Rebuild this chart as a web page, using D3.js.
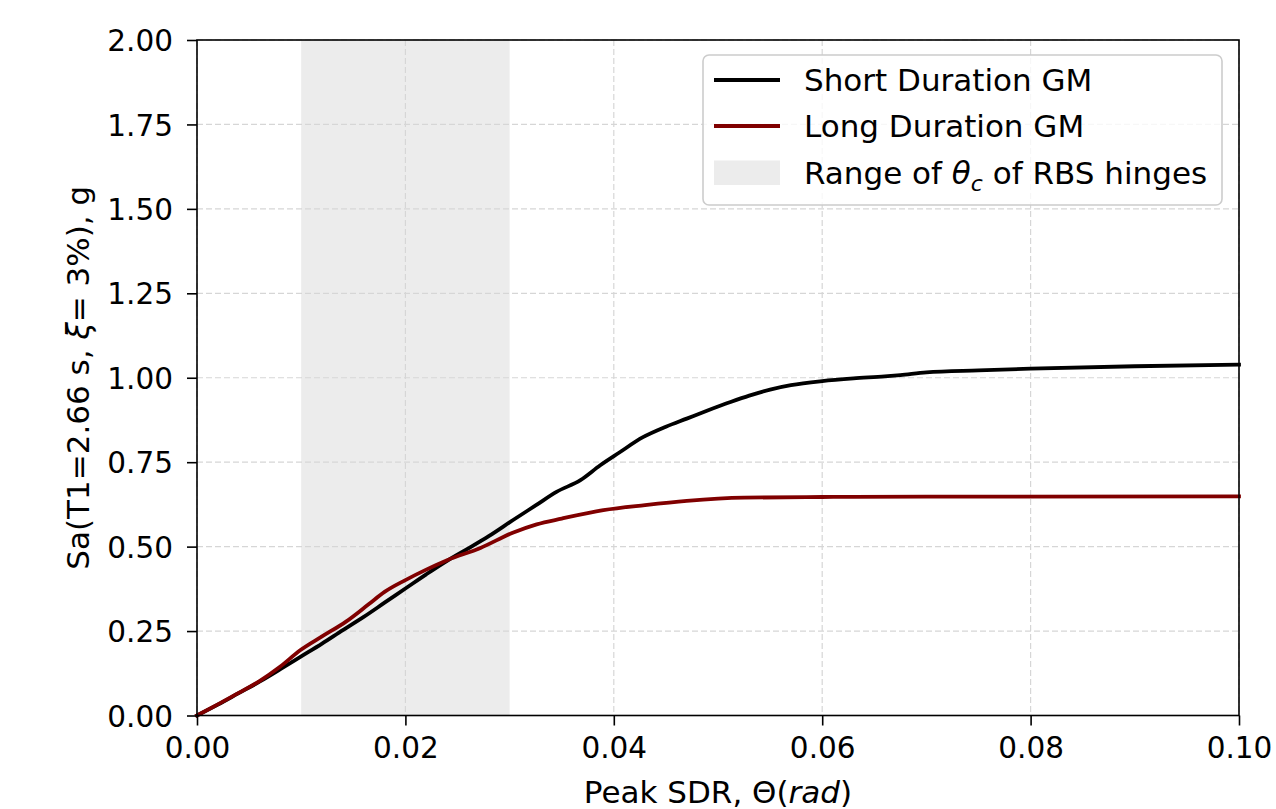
<!DOCTYPE html>
<html>
<head>
<meta charset="utf-8">
<script src="https://cdn.jsdelivr.net/npm/d3@7"></script>
<style>
  html, body { margin: 0; padding: 0; background: #fff; }
  svg { display: block; font-family: "DejaVu Sans", sans-serif; }
</style>
</head>
<body>
<svg id="chart" width="1276" height="809"></svg>
<script>
// ---- data ----
const xTicks = [0, 0.02, 0.04, 0.06, 0.08, 0.10];
const yTicks = [0, 0.25, 0.5, 0.75, 1.0, 1.25, 1.5, 1.75, 2.0];
const shadeRange = [0.01, 0.03];

const shortX = [0, 0.002, 0.004, 0.006, 0.008, 0.010, 0.012, 0.014, 0.016, 0.018, 0.020, 0.022, 0.024, 0.026, 0.028, 0.0303, 0.0325, 0.0345, 0.0368, 0.0387, 0.0405, 0.0428, 0.045, 0.047, 0.049, 0.0512, 0.053, 0.055, 0.057, 0.060, 0.063, 0.066, 0.0675, 0.070, 0.075, 0.080, 0.090, 0.100];
const shortY = [0, 0.032, 0.066, 0.100, 0.137, 0.175, 0.213, 0.253, 0.292, 0.334, 0.376, 0.418, 0.458, 0.494, 0.531, 0.578, 0.622, 0.662, 0.697, 0.741, 0.778, 0.824, 0.855, 0.879, 0.903, 0.928, 0.947, 0.965, 0.978, 0.990, 0.998, 1.004, 1.008, 1.016, 1.022, 1.027, 1.034, 1.039];

const longX = [0, 0.002, 0.004, 0.006, 0.008, 0.0099, 0.012, 0.0143, 0.0165, 0.018, 0.020, 0.022, 0.024, 0.0272, 0.0303, 0.0326, 0.035, 0.039, 0.043, 0.047, 0.0525, 0.060, 0.070, 0.100];
const longY = [0, 0.033, 0.067, 0.102, 0.145, 0.193, 0.234, 0.278, 0.330, 0.366, 0.401, 0.432, 0.460, 0.496, 0.541, 0.566, 0.583, 0.608, 0.623, 0.6355, 0.645, 0.647, 0.648, 0.649];

const seriesNames = ["Short Duration GM", "Long Duration GM"];

// ---- layout ----
const svg = d3.select("#chart");
const tickFont = 29.5;
const labelFont = 31;
const pL = 197, pR = 1239, pT = 40, pB = 715.5;

const x = d3.scaleLinear().domain([0, 0.1]).range([pL, pR]);
const y = d3.scaleLinear().domain([0, 2]).range([pB, pT]);

// shaded range
svg.append("rect")
  .attr("x", x(shadeRange[0])).attr("y", pT)
  .attr("width", x(shadeRange[1]) - x(shadeRange[0]))
  .attr("height", pB - pT)
  .attr("fill", "#ececec");

// grid
const grid = svg.append("g");
grid.selectAll("line.gx").data(xTicks).enter().append("line")
  .attr("x1", d => x(d)).attr("x2", d => x(d))
  .attr("y1", pT).attr("y2", pB)
  .attr("stroke", "#d6d6d6").attr("stroke-width", 1.2).attr("stroke-dasharray", "6,3");
grid.selectAll("line.gy").data(yTicks).enter().append("line")
  .attr("x1", pL).attr("x2", pR)
  .attr("y1", d => y(d)).attr("y2", d => y(d))
  .attr("stroke", "#d6d6d6").attr("stroke-width", 1.2).attr("stroke-dasharray", "6,3");

// lines
const line = d3.line().curve(d3.curveMonotoneX).x(d => x(d[0])).y(d => y(d[1]));
const shortData = shortX.map((v, i) => [v, shortY[i]]);
const longData = longX.map((v, i) => [v, longY[i]]);

svg.append("path").datum(shortData).attr("d", line)
  .attr("fill", "none").attr("stroke", "#000").attr("stroke-width", 3.8)
  .attr("stroke-linejoin", "round").attr("stroke-linecap", "square");
svg.append("path").datum(longData).attr("d", line)
  .attr("fill", "none").attr("stroke", "#800000").attr("stroke-width", 3.8)
  .attr("stroke-linejoin", "round").attr("stroke-linecap", "square");

// axes
const xAxis = d3.axisBottom(x).tickValues(xTicks).tickFormat(d3.format(".2f")).tickSizeInner(10).tickSizeOuter(0).tickPadding(12);
const yAxis = d3.axisLeft(y).tickValues(yTicks).tickFormat(d3.format(".2f")).tickSizeInner(10).tickSizeOuter(0).tickPadding(14);

const gx = svg.append("g").attr("transform", `translate(0,${pB})`).call(xAxis);
const gy = svg.append("g").attr("transform", `translate(${pL},0)`).call(yAxis);
[gx, gy].forEach(g => {
  g.select(".domain").remove();
  g.selectAll(".tick line").attr("stroke", "#000").attr("stroke-width", 1.6);
  g.selectAll(".tick text").attr("fill", "#000").style("font-size", tickFont + "px").style("font-family", "DejaVu Sans");
});
gy.selectAll(".tick text").attr("dy", "0.36em");

// frame
svg.append("rect").attr("x", pL).attr("y", pT)
  .attr("width", pR - pL).attr("height", pB - pT)
  .attr("fill", "none").attr("stroke", "#000").attr("stroke-width", 1.6);

// axis labels
const xl = svg.append("text").attr("x", (pL + pR) / 2).attr("y", 803)
  .attr("text-anchor", "middle").style("font-size", labelFont + "px");
xl.append("tspan").text("Peak SDR, Θ(");
xl.append("tspan").attr("font-style", "italic").text("rad");
xl.append("tspan").text(")");

const yl = svg.append("text")
  .attr("transform", `translate(89,${(pT + pB) / 2}) rotate(-90)`)
  .attr("text-anchor", "middle").style("font-size", labelFont + "px");
yl.append("tspan").text("Sa(T1=2.66 s, ");
yl.append("tspan").attr("font-style", "italic").text("ξ");
yl.append("tspan").text("= 3%), g");

// legend
const lg = svg.append("g");
lg.append("rect").attr("x", 703).attr("y", 55).attr("width", 519).attr("height", 150)
  .attr("rx", 6).attr("fill", "#fff").attr("fill-opacity", 0.8)
  .attr("stroke", "#cccccc").attr("stroke-width", 1.6);
const rows = [80, 126, 172.5];
const colors = ["#000", "#800000"];
seriesNames.forEach((n, i) => {
  lg.append("line").attr("x1", 714).attr("x2", 780).attr("y1", rows[i]).attr("y2", rows[i])
    .attr("stroke", colors[i]).attr("stroke-width", 3.8);
  lg.append("text").attr("x", 804).attr("y", rows[i]).attr("dy", "0.36em")
    .style("font-size", labelFont + "px").text(n);
});
lg.append("rect").attr("x", 714).attr("y", 160.5).attr("width", 66).attr("height", 24.5).attr("fill", "#ececec");
const t3 = lg.append("text").attr("x", 804).attr("y", rows[2]).attr("dy", "0.36em").style("font-size", labelFont + "px");
t3.append("tspan").text("Range of ");
t3.append("tspan").attr("font-style", "italic").text("θ");
t3.append("tspan").attr("font-style", "italic").attr("font-size", "22px").attr("dy", "7").text("c");
t3.append("tspan").attr("dy", "-7").text(" of RBS hinges");
</script>
</body>
</html>
